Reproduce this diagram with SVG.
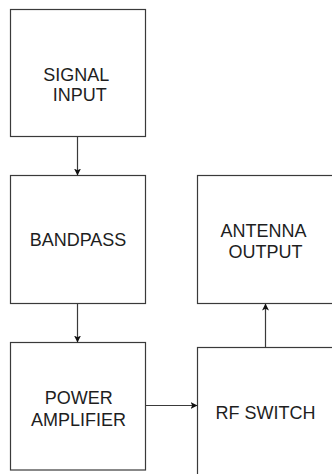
<svg xmlns="http://www.w3.org/2000/svg" width="332" height="474" viewBox="0 0 332 474">
  <style>
    .box { fill: #ffffff; stroke: #3a3a3a; stroke-width: 1.2; }
    .label { font-family: "Liberation Sans", Arial, sans-serif; font-size: 18px; fill: #1e1e1e; text-anchor: middle; }
    .wire { stroke: #3a3a3a; stroke-width: 1.2; fill: none; marker-end: url(#head); }
  </style>
  <defs>
    <marker id="head" viewBox="0 0 10 10" refX="10" refY="5" markerWidth="7" markerHeight="7" markerUnits="userSpaceOnUse" orient="auto">
      <path d="M0,0 L10,5 L0,10 L2.5,5 Z" fill="#111111"/>
    </marker>
  </defs>
  <rect width="332" height="474" fill="#ffffff"/>

  <g id="signal-input">
    <rect class="box" x="10.5" y="9.5" width="135" height="127"/>
    <text class="label" x="76.3" y="80.7">SIGNAL</text>
    <text class="label" x="79.8" y="100.7">INPUT</text>
  </g>

  <g id="bandpass">
    <rect class="box" x="10.5" y="175.5" width="135" height="128"/>
    <text class="label" x="78" y="246">BANDPASS</text>
  </g>

  <g id="power-amplifier">
    <rect class="box" x="10.5" y="342.5" width="135" height="127.5"/>
    <text class="label" x="78.8" y="404">POWER</text>
    <text class="label" x="78.5" y="425.7">AMPLIFIER</text>
  </g>

  <g id="antenna-output">
    <rect class="box" x="197.5" y="175.5" width="150" height="128"/>
    <text class="label" x="263.5" y="236.7">ANTENNA</text>
    <text class="label" x="265.5" y="258.3">OUTPUT</text>
  </g>

  <g id="rf-switch">
    <rect class="box" x="197.5" y="347.5" width="150" height="140"/>
    <text class="label" x="265.5" y="419">RF SWITCH</text>
  </g>

  <g id="connectors">
    <line class="wire" x1="77.5" y1="136.5" x2="77.5" y2="175.5"/>
    <line class="wire" x1="77.5" y1="303.5" x2="77.5" y2="342.5"/>
    <line class="wire" x1="145.5" y1="405.5" x2="197.5" y2="405.5"/>
    <line class="wire" x1="265.5" y1="347.5" x2="265.5" y2="303.5"/>
  </g>
</svg>
